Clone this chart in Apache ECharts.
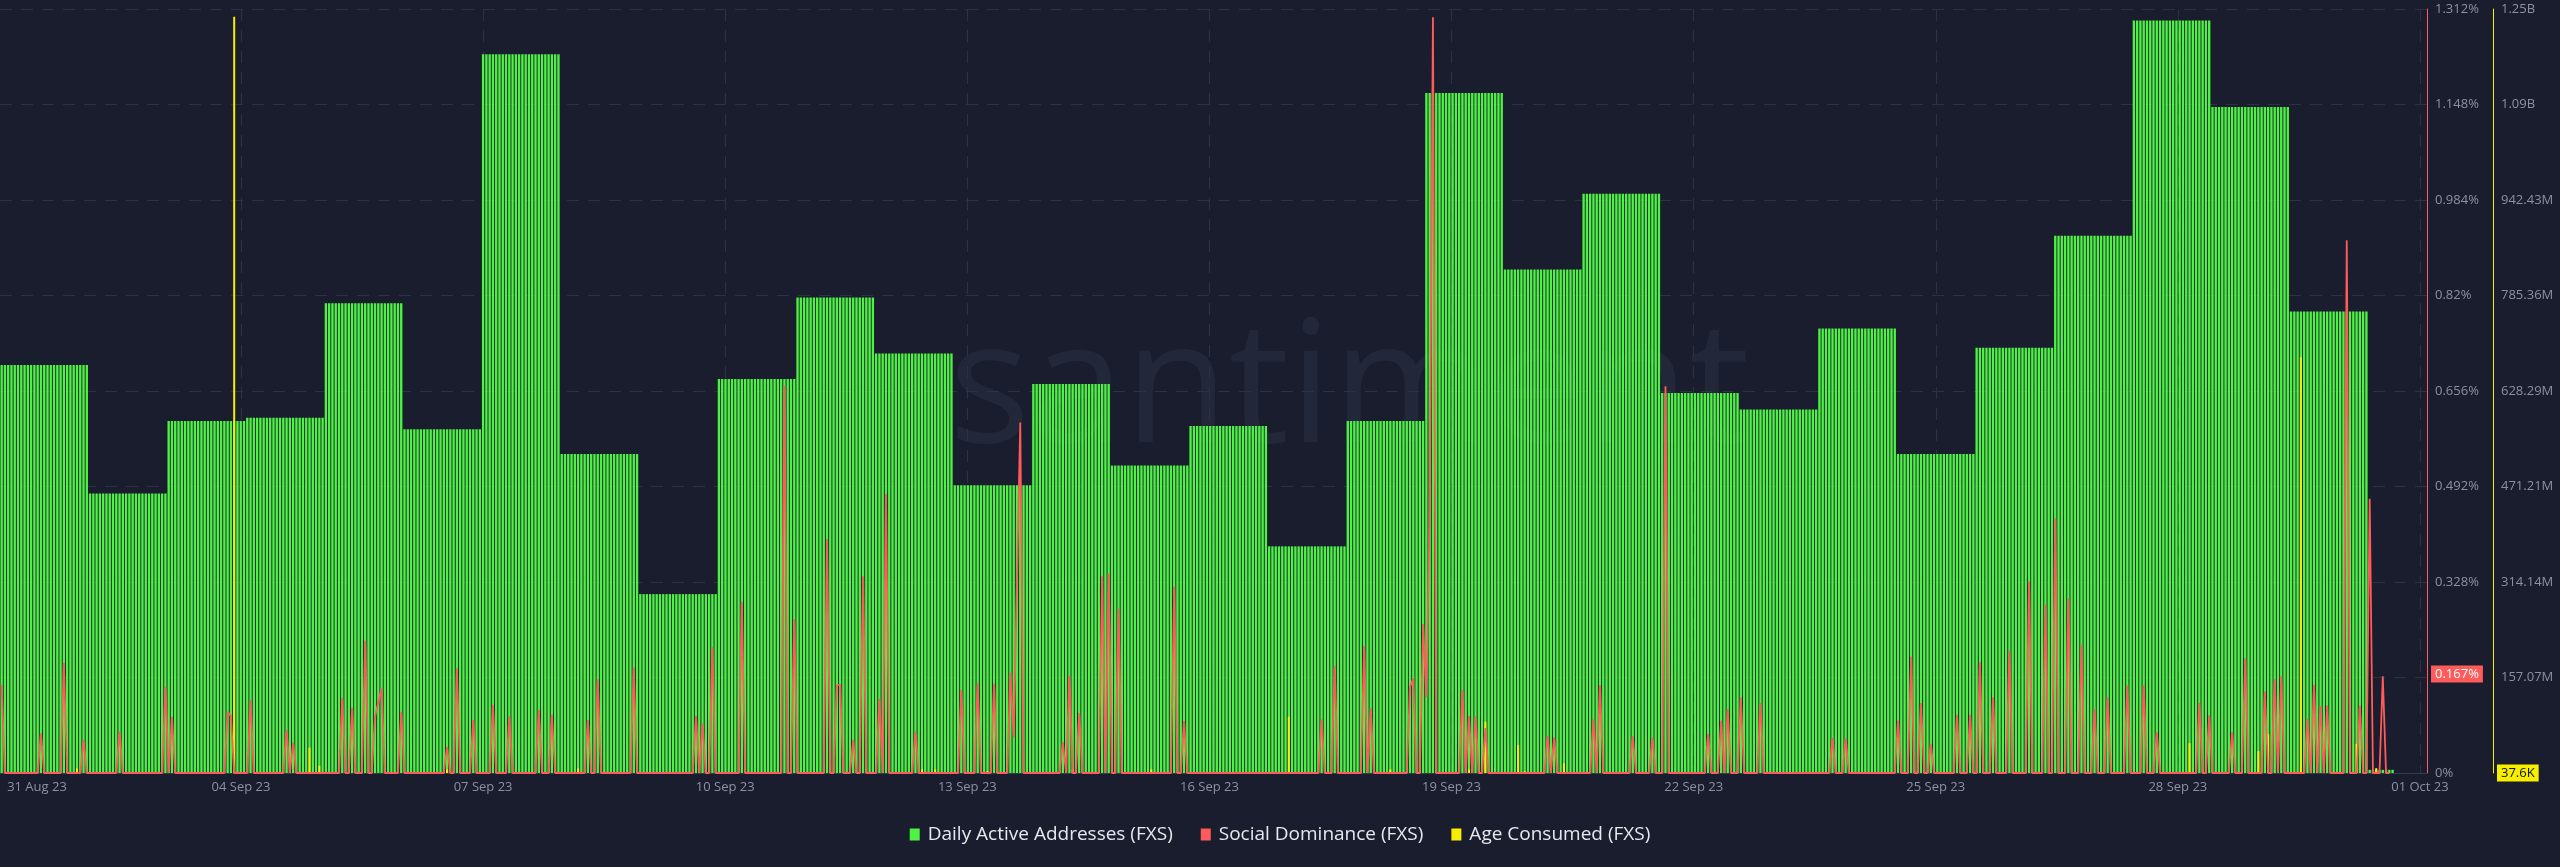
<!DOCTYPE html>
<html>
<head>
<meta charset="utf-8">
<script src="https://cdn.jsdelivr.net/npm/echarts@6/dist/echarts.min.js"></script>
<style>
html,body{margin:0;padding:0;background:#1a1d2d;}
#c{width:2560px;height:867px;}
</style>
</head>
<body>
<div id="c"></div>
<script>
// ---------------- DATA ----------------
const seriesNames = ['Daily Active Addresses (FXS)', 'Social Dominance (FXS)', 'Age Consumed (FXS)'];

// hourly time line of the chart
const firstHourUTC = '2023-08-31T21:00:00Z';
const hourSlots = 741;        // hourly slots on the axis
const dataHours = 731;        // hours that carry data

// Daily active addresses (one value per UTC day, shown on every hour of that day)
const dayKeys = ['2023-08-31','2023-09-01','2023-09-02','2023-09-03','2023-09-04','2023-09-05','2023-09-06','2023-09-07',
  '2023-09-08','2023-09-09','2023-09-10','2023-09-11','2023-09-12','2023-09-13','2023-09-14','2023-09-15','2023-09-16',
  '2023-09-17','2023-09-18','2023-09-19','2023-09-20','2023-09-21','2023-09-22','2023-09-23','2023-09-24','2023-09-25',
  '2023-09-26','2023-09-27','2023-09-28','2023-09-29','2023-09-30','2023-10-01'];
const dailyActiveAddresses = [641,641,439,553,558,738,540,1129,501,281,619,747,659,452,611,483,545,356,553,1068,791,910,
  597,571,698,501,668,844,1182,1046,725,5];

// Social dominance (%): hourly series, zero except at these [hour index, value] points
const socialEndHour = 729;
const socialSpikes = [[0,0.151],[12,0.068],[19,0.189],[25,0.057],[36,0.071],[50,0.148],[52,0.096],[69,0.105],[70,0.098],
  [76,0.125],[87,0.074],[89,0.052],[104,0.129],[107,0.112],[111,0.227],[114,0.097],[115,0.121],[116,0.145],[122,0.105],
  [136,0.045],[139,0.18],[144,0.091],[150,0.117],[155,0.097],[164,0.108],[168,0.1],[179,0.091],[182,0.161],[193,0.181],
  [212,0.098],[214,0.085],[217,0.216],[226,0.294],[239,0.665],[242,0.264],[252,0.402],[255,0.15],[256,0.152],[260,0.057],
  [263,0.338],[268,0.127],[270,0.479],[279,0.071],[293,0.143],[298,0.154],[303,0.153],[308,0.172],[309,0.061],[310,0.33],
  [311,0.602],[324,0.053],[326,0.167],[329,0.103],[336,0.338],[338,0.342],[341,0.282],[358,0.32],[361,0.089],[403,0.092],
  [407,0.184],[416,0.218],[418,0.111],[430,0.148],[431,0.162],[434,0.256],[435,0.13],[436,0.45],[437,1.298],[446,0.143],
  [448,0.098],[450,0.097],[453,0.077],[472,0.064],[474,0.061],[486,0.092],[488,0.151],[498,0.063],[504,0.061],[508,0.664],
  [521,0.067],[525,0.09],[527,0.11],[531,0.13],[537,0.12],[559,0.06],[563,0.06],[579,0.09],[583,0.2],[586,0.12],[589,0.05],
  [597,0.1],[601,0.1],[604,0.19],[608,0.13],[613,0.21],[619,0.329],[624,0.289],[627,0.437],[631,0.3],[635,0.22],[639,0.11],
  [643,0.13],[649,0.15],[654,0.15],[658,0.07],[671,0.12],[674,0.099],[681,0.07],[685,0.197],[691,0.14],[694,0.161],
  [696,0.166],[704,0.093],[706,0.151],[708,0.115],[710,0.116],[716,0.915],[720,0.116],[723,0.471],[727,0.166]];
const socialLatest = 0.167;

// Age consumed: [hour index, value]
const ageConsumedBars = [[23,7.7e6],[71,1244e6],[94,41.6e6],[97,12e6],[136,6e6],[176,7.7e6],[281,6e6],[285,6e6],[301,3e6],
  [327,6e6],[351,6e6],[393,92.6e6],[424,6e6],[448,6e6],[453,84.4e6],[463,46e6],[465,3e6],[477,16e6],[620,2e6],[668,49e6],
  [689,36e6],[692,64e6],[702,684e6],[719,48e6],[725,8e6]];
const ageLatest = 37600;

// x tick labels (position in days since 31 Aug 2023 00:00 UTC)
const tickDays = [4,7,10,13,16,19,22,25,28,31];
const labelDays = [1.472,4,7,10,13,16,19,22,25,28,31];
const tickLabels = ['31 Aug 23','04 Sep 23','07 Sep 23','10 Sep 23','13 Sep 23','16 Sep 23','19 Sep 23','22 Sep 23','25 Sep 23','28 Sep 23','01 Oct 23'];

// ---------------- BUILD ----------------
const t0 = Date.parse(firstHourUTC);
const hours = [];
const daaHourly = [];
const socialHourly = [];
const ageHourly = [];
for (let h = 0; h < hourSlots; h++) {
  const iso = new Date(t0 + h * 3600e3).toISOString();
  hours.push(iso.slice(0, 13) + ':00');
  const di = dayKeys.indexOf(iso.slice(0, 10));
  daaHourly.push(h < dataHours && di >= 0 ? dailyActiveAddresses[di] : null);
  socialHourly.push(h <= socialEndHour ? 0 : null);
  ageHourly.push(null);
}
socialSpikes.forEach(([i, v]) => { socialHourly[i] = v; });
ageConsumedBars.forEach(([i, v]) => { ageHourly[i] = v; });

const GREEN = '#4ef244', RED = '#ff5b5b', YELLOW = '#f7ee00';
const BG = '#1a1d2d', GRID = '#2c3144', LABEL = '#8b91a5';
const FONT = 'Open Sans';

const fmtPct = v => parseFloat(v.toFixed(3)) + '%';
const fmtAge = v => {
  if (v >= 1e9) return (Math.floor(v / 1e7 + 1e-6) / 100).toFixed(2) + 'B';
  if (v >= 1e6) return (Math.floor(v / 1e4 + 1e-6) / 100).toFixed(2) + 'M';
  if (v >= 1e3) return (Math.round(v / 100) / 10) + 'K';
  return String(v);
};

const chart = echarts.init(document.getElementById('c'), null, {renderer: 'canvas', width: 2560, height: 867});
chart.setOption({
  backgroundColor: BG,
  animation: false,
  textStyle: {fontFamily: FONT},
  grid: {left: 0, right: 133, top: 9, bottom: 94, containLabel: false, outerBoundsMode: 'none'},
  graphic: [{
    type: 'text', z: -10, x: 949, y: 394, silent: true,
    style: {text: 'santiment', fontSize: 170, fontFamily: FONT, fill: '#22273a', align: 'left', verticalAlign: 'middle'}
  }],
  legend: {
    top: 820, left: 'center', icon: 'rect', itemWidth: 10, itemHeight: 12, itemGap: 28,
    data: seriesNames,
    textStyle: {color: '#e6e8ee', fontSize: 19, fontFamily: FONT, padding: [0, 0, 0, 3]}
  },
  xAxis: [
    {type: 'category', data: hours, show: false, position: 'bottom', boundaryGap: true},
    {
      type: 'value', min: 1.0136, max: 31.087, position: 'bottom',
      axisLine: {show: true, lineStyle: {color: '#363b4d'}},
      axisTick: {show: false, customValues: tickDays},
      axisLabel: {
        customValues: labelDays, color: LABEL, fontSize: 13, margin: 8, fontFamily: FONT,
        formatter: v => { const i = labelDays.findIndex(d => Math.abs(d - v) < 1e-6); return i >= 0 ? tickLabels[i] : ''; }
      },
      splitLine: {show: true, lineStyle: {color: GRID, type: [12, 9], width: 1}}
    },
    {type: 'category', data: hours, show: false, position: 'bottom', boundaryGap: true}
  ],
  yAxis: [
    {type: 'value', show: false, min: 0, max: 1200, position: 'left', splitLine: {show: false}},
    {
      type: 'value', position: 'right', min: 0, max: 1.312, interval: 0.164,
      axisLine: {show: true, lineStyle: {color: RED, width: 1}},
      axisTick: {show: false},
      axisLabel: {color: LABEL, fontSize: 13, margin: 8, formatter: fmtPct, fontFamily: FONT},
      splitLine: {show: true, lineStyle: {color: GRID, type: [12, 9], width: 1}}
    },
    {
      type: 'value', position: 'right', offset: 66, min: 0, max: 1256580000, interval: 157072500,
      axisLine: {show: true, lineStyle: {color: YELLOW, width: 1}},
      axisTick: {show: false},
      axisLabel: {color: LABEL, fontSize: 13, margin: 8, formatter: fmtAge, fontFamily: FONT},
      splitLine: {show: false}
    }
  ],
  series: [
    {
      name: seriesNames[0], type: 'bar', xAxisIndex: 0, yAxisIndex: 0, data: daaHourly,
      barCategoryGap: '28%', itemStyle: {color: GREEN}, z: 2, silent: true
    },
    {
      name: seriesNames[1], type: 'line', xAxisIndex: 0, yAxisIndex: 1, data: socialHourly,
      showSymbol: false, symbol: 'none', lineStyle: {color: RED, width: 1.8}, itemStyle: {color: RED}, z: 4, silent: true,
      markLine: {
        silent: true, symbol: ['none', 'none'], data: [{yAxis: socialLatest}], z: 10,
        lineStyle: {width: 0, color: 'rgba(0,0,0,0)', type: 'solid'},
        label: {show: true, position: 'end', distance: [4, 0], formatter: () => fmtPct(socialLatest),
          backgroundColor: RED, color: '#ffffff', fontSize: 13, padding: [2, 4, 2, 4], fontFamily: FONT}
      }
    },
    {
      name: seriesNames[2], type: 'bar', xAxisIndex: 2, yAxisIndex: 2, data: ageHourly,
      barWidth: 2, itemStyle: {color: YELLOW}, z: 3, silent: true,
      markLine: {
        silent: true, symbol: ['none', 'none'], data: [{yAxis: ageLatest}], z: 10,
        lineStyle: {width: 0, color: 'rgba(0,0,0,0)', type: 'solid'},
        label: {show: true, position: 'end', distance: [70, 0], formatter: () => fmtAge(ageLatest),
          backgroundColor: YELLOW, color: '#111111', fontSize: 13, padding: [2, 4, 2, 4], fontFamily: FONT}
      }
    }
  ]
});
</script>
</body>
</html>
